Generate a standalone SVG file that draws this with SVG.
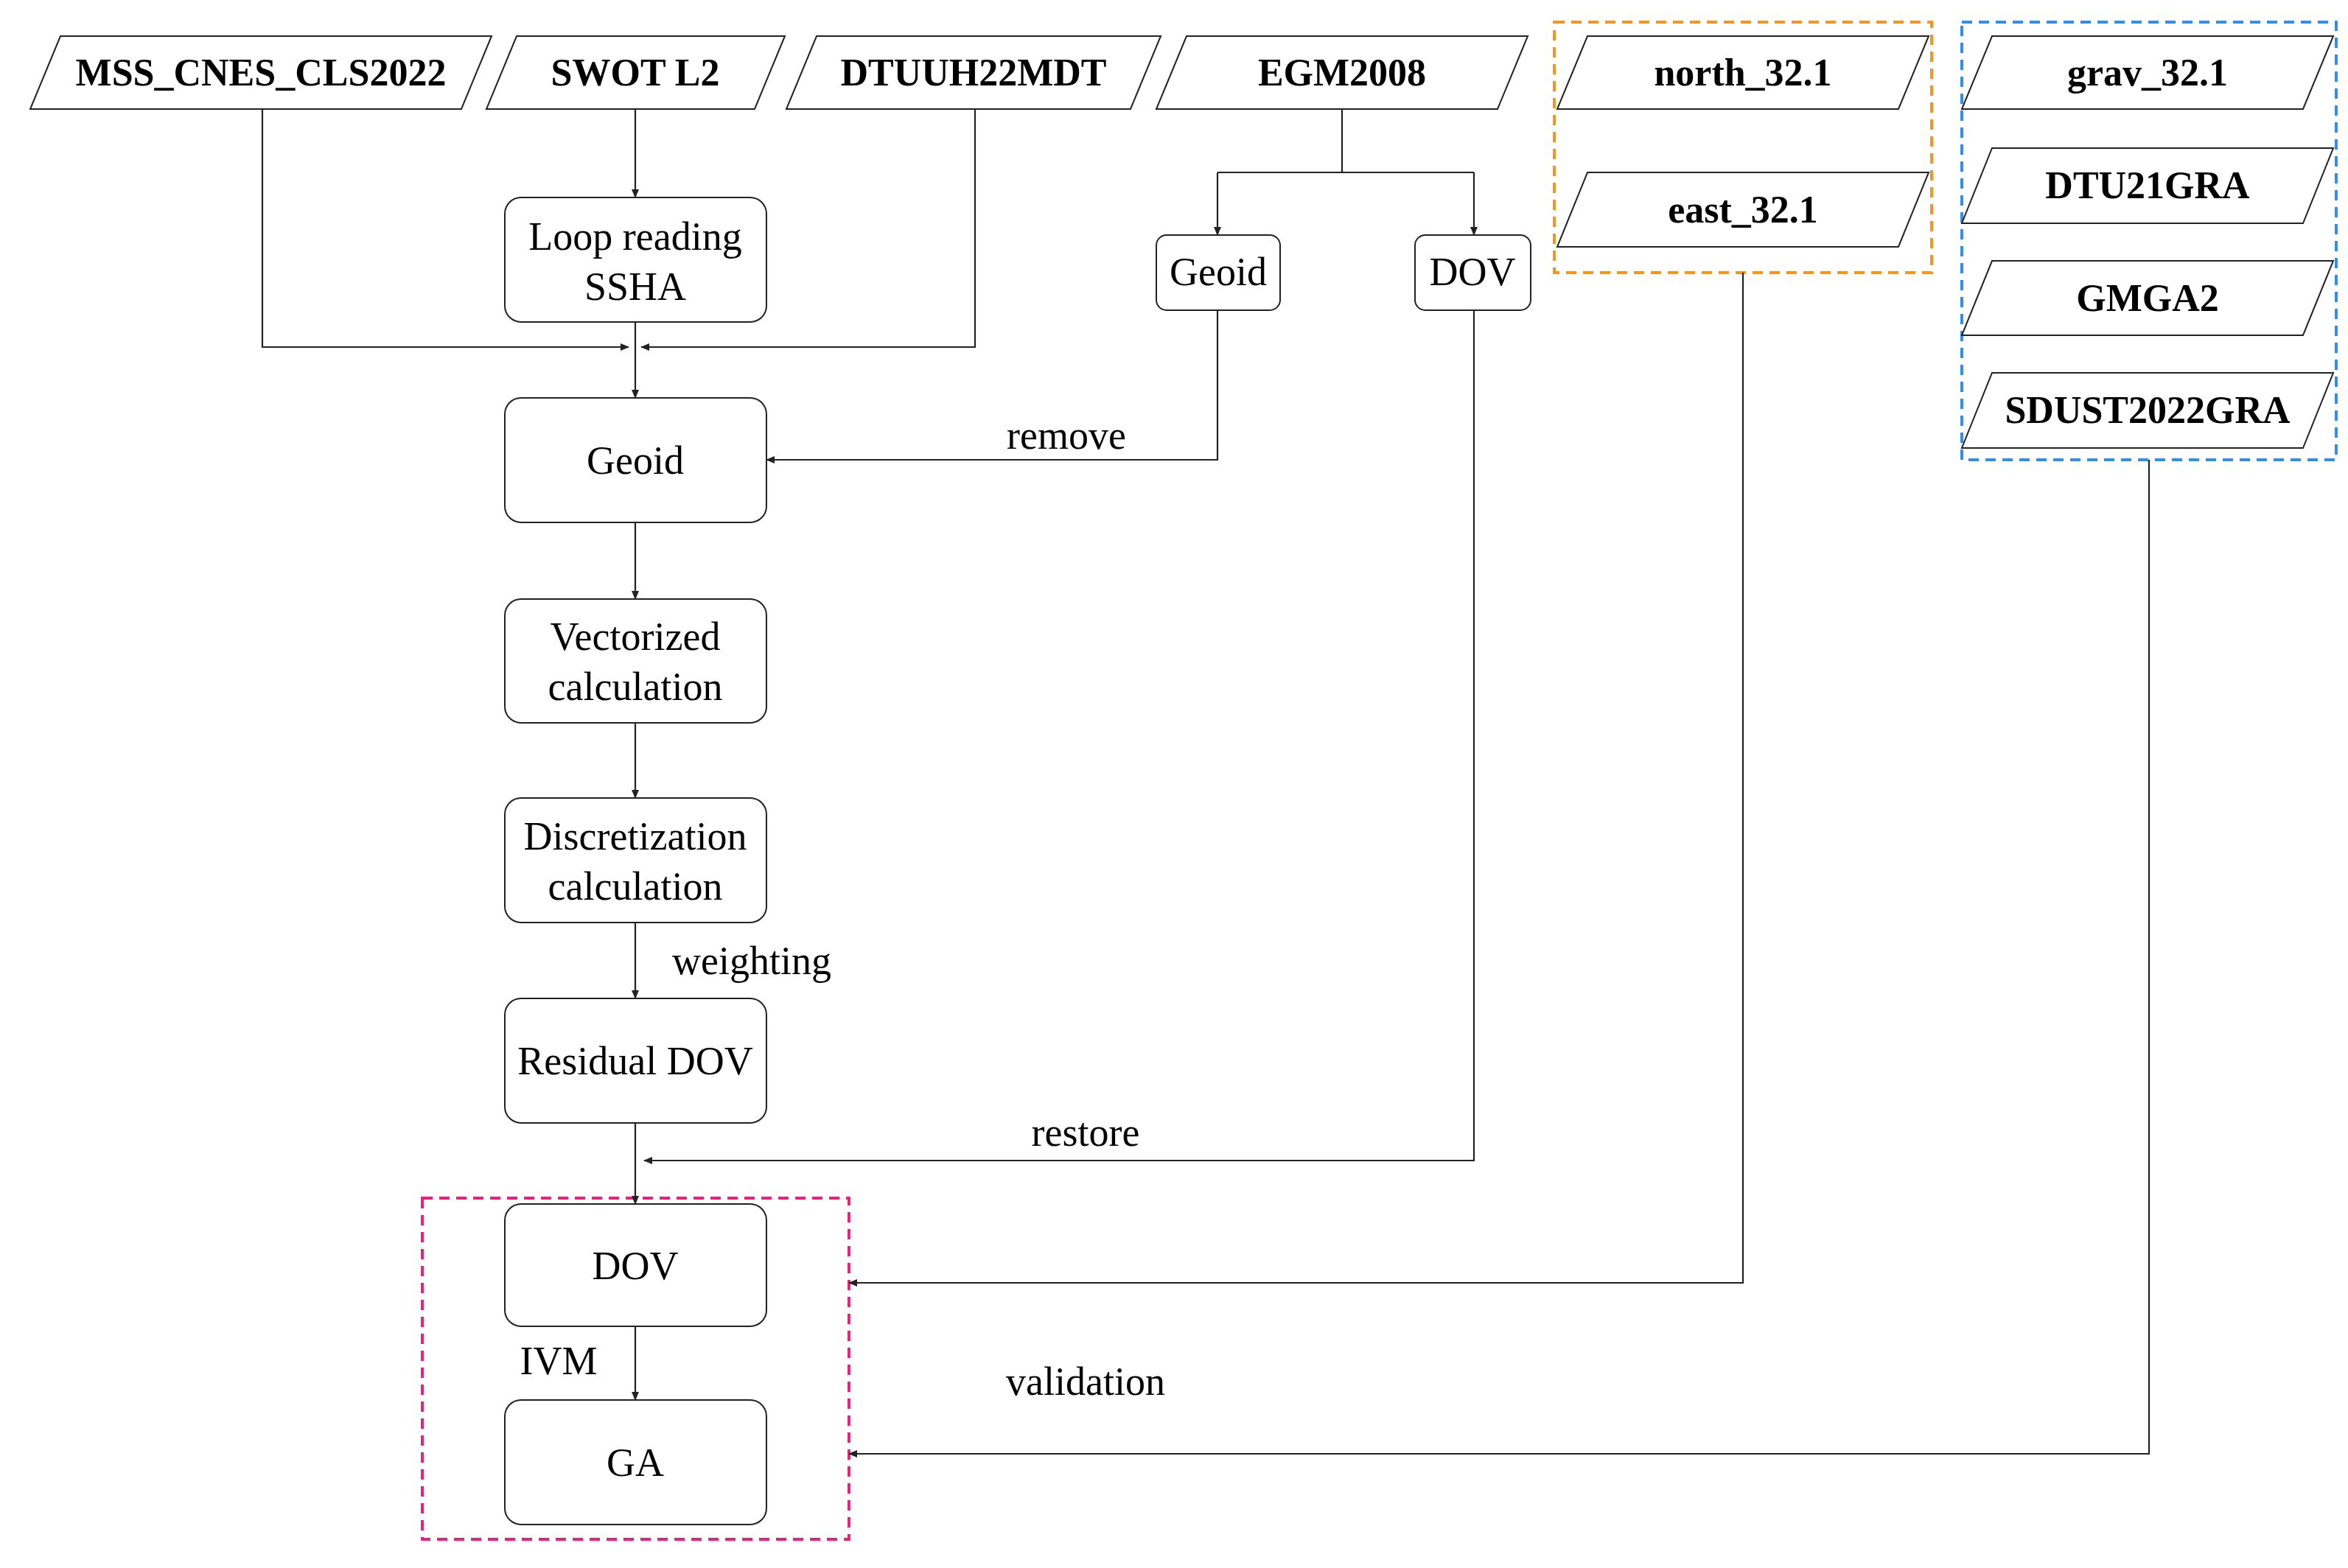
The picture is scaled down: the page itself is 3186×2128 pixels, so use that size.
<svg xmlns="http://www.w3.org/2000/svg" width="3186" height="2128" viewBox="0 0 3186 2128">
<style>
.p{fill:#fff;stroke:#222;stroke-width:2}
.b{fill:#fff;stroke:#222;stroke-width:2}
.pt{font-family:"Liberation Serif",serif;font-weight:bold;font-size:52px;text-anchor:middle;fill:#000}
.t{font-family:"Liberation Serif",serif;font-size:54px;text-anchor:middle;fill:#000}
.c{fill:none;stroke:#222;stroke-width:2.2;marker-end:url(#a)}
.l{fill:none;stroke:#222;stroke-width:2.2}
</style>
<defs><marker id="a" markerWidth="12" markerHeight="10" refX="11" refY="5" orient="auto" markerUnits="userSpaceOnUse"><path d="M0,0L12,5L0,10z" fill="#222"/></marker></defs>
<rect width="3186" height="2128" fill="#fff"/>
<rect x="2109" y="30" width="512" height="340" fill="none" stroke="#f7941d" stroke-width="4" stroke-dasharray="14,9"/>
<rect x="2662" y="30" width="508" height="594" fill="none" stroke="#2e8fef" stroke-width="4" stroke-dasharray="14,9"/>
<rect x="573" y="1626" width="579" height="463" fill="none" stroke="#ec1f7c" stroke-width="4" stroke-dasharray="14,9"/>
<g id="connectors">
<path class="c" d="M356,148V471H853"/>
<path class="c" d="M1323,148V471H870"/>
<path class="c" d="M862,148V268"/>
<path class="c" d="M862,437V540"/>
<path class="l" d="M1821,148V234M1652,234H2000"/>
<path class="c" d="M1652,234V319"/>
<path class="c" d="M2000,234V319"/>
<path class="c" d="M1652,421V624H1040"/>
<path class="c" d="M862,709V813"/>
<path class="c" d="M862,981V1083"/>
<path class="c" d="M862,1252V1355"/>
<path class="c" d="M862,1524V1634"/>
<path class="c" d="M2000,421V1575H874"/>
<path class="c" d="M862,1800V1900"/>
<path class="c" d="M2365,370V1741H1152"/>
<path class="c" d="M2916,624V1973H1152"/>
<text class="t" x="1447" y="609">remove</text>
<text class="t" x="1020" y="1322">weighting</text>
<text class="t" x="1473" y="1555">restore</text>
<text class="t" x="758" y="1865">IVM</text>
<text class="t" x="1473" y="1893">validation</text>
</g>
<g id="mss"><path class="p" d="M82,49H667L626,148H41z"/><text class="pt" x="354" y="116">MSS_CNES_CLS2022</text></g>
<g id="swot"><path class="p" d="M701,49H1065L1024,148H660z"/><text class="pt" x="862" y="116">SWOT L2</text></g>
<g id="dtuuh"><path class="p" d="M1108,49H1575L1534,148H1067z"/><text class="pt" x="1321" y="116">DTUUH22MDT</text></g>
<g id="egm"><path class="p" d="M1610,49H2073L2032,148H1569z"/><text class="pt" x="1821" y="116">EGM2008</text></g>
<g id="north"><path class="p" d="M2154,49H2617L2576,148H2113z"/><text class="pt" x="2365" y="116">north_32.1</text></g>
<g id="east"><path class="p" d="M2154,234H2617L2576,335H2113z"/><text class="pt" x="2365" y="302">east_32.1</text></g>
<g id="grav"><path class="p" d="M2703,49H3166L3125,148H2662z"/><text class="pt" x="2914" y="116">grav_32.1</text></g>
<g id="dtu21"><path class="p" d="M2703,201H3166L3125,303H2662z"/><text class="pt" x="2914" y="269">DTU21GRA</text></g>
<g id="gmga2"><path class="p" d="M2703,354H3166L3125,455H2662z"/><text class="pt" x="2914" y="422">GMGA2</text></g>
<g id="sdust"><path class="p" d="M2703,506H3166L3125,608H2662z"/><text class="pt" x="2914" y="574">SDUST2022GRA</text></g>
<g id="loop"><rect class="b" x="685" y="268" width="355" height="169" rx="22"/><text class="t" x="862" y="339">Loop reading</text><text class="t" x="862" y="407">SSHA</text></g>
<g id="geoid"><rect class="b" x="685" y="540" width="355" height="169" rx="22"/><text class="t" x="862" y="643">Geoid</text></g>
<g id="vec"><rect class="b" x="685" y="813" width="355" height="168" rx="22"/><text class="t" x="862" y="882">Vectorized</text><text class="t" x="862" y="950">calculation</text></g>
<g id="disc"><rect class="b" x="685" y="1083" width="355" height="169" rx="22"/><text class="t" x="862" y="1153">Discretization</text><text class="t" x="862" y="1221">calculation</text></g>
<g id="resid"><rect class="b" x="685" y="1355" width="355" height="169" rx="22"/><text class="t" x="862" y="1458">Residual DOV</text></g>
<g id="dov"><rect class="b" x="685" y="1634" width="355" height="166" rx="22"/><text class="t" x="862" y="1736">DOV</text></g>
<g id="ga"><rect class="b" x="685" y="1900" width="355" height="169" rx="22"/><text class="t" x="862" y="2003">GA</text></g>
<g id="geoid2"><rect class="b" x="1569" y="319" width="168" height="102" rx="14"/><text class="t" x="1653" y="387">Geoid</text></g>
<g id="dov2"><rect class="b" x="1920" y="319" width="157" height="102" rx="14"/><text class="t" x="1998" y="387">DOV</text></g>
</svg>
